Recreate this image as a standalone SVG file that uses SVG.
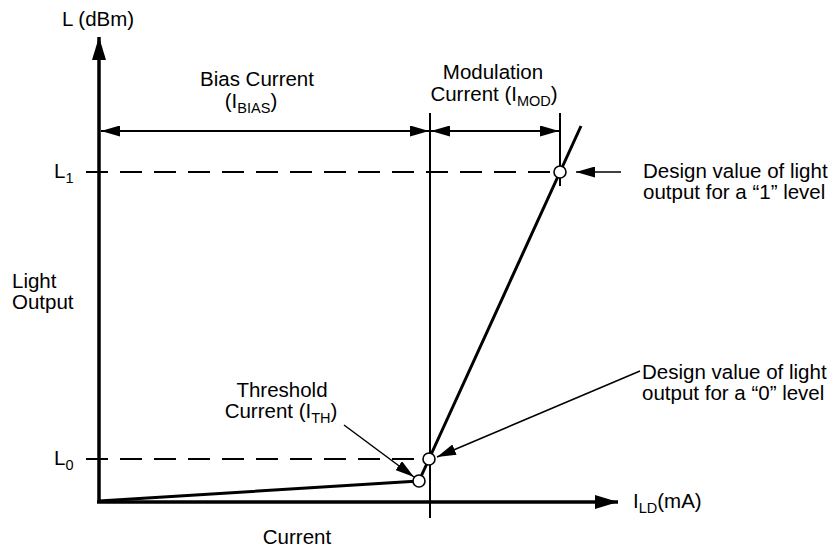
<svg xmlns="http://www.w3.org/2000/svg" width="836" height="550" viewBox="0 0 836 550">
  <style>
    text { font-family: "Liberation Sans", Arial, Helvetica, sans-serif; font-size: 20.5px; fill: #000; }
    .sub { font-size: 14.5px; }
    .axis { stroke: #000; stroke-width: 3.5; fill: none; }
    .thin { stroke: #000; stroke-width: 2; fill: none; }
    .dash { stroke: #000; stroke-width: 2; fill: none; stroke-dasharray: 22 12; }
    .curve { stroke: #000; stroke-width: 3; fill: none; stroke-linejoin: round; }
    .callout { stroke: #000; stroke-width: 1.5; fill: none; }
    .pt { fill: #fff; stroke: #000; stroke-width: 1.6; }
  </style>
  <defs>
    <marker id="axisHead" viewBox="0 0 23 14" refX="23" refY="7" markerWidth="23" markerHeight="14" markerUnits="userSpaceOnUse" orient="auto">
      <path d="M0,0 L23,7 L0,14 z" fill="#000"/>
    </marker>
    <marker id="dimHead" viewBox="0 0 19 11" refX="19" refY="5.5" markerWidth="19" markerHeight="11" markerUnits="userSpaceOnUse" orient="auto-start-reverse">
      <path d="M0,0 L19,5.5 L0,11 z" fill="#000"/>
    </marker>
    <marker id="callHead" viewBox="0 0 19 11" refX="19" refY="5.5" markerWidth="19" markerHeight="11" markerUnits="userSpaceOnUse" orient="auto">
      <path d="M0,0 L19,5.5 L0,11 z" fill="#000"/>
    </marker>
  </defs>

  <!-- axes -->
  <g id="axes">
    <line class="axis" x1="99" y1="503" x2="99" y2="37" marker-end="url(#axisHead)"/>
    <line class="axis" x1="97" y1="502" x2="618" y2="502" marker-end="url(#axisHead)"/>
    <text x="62" y="26">L (dBm)</text>
    <text x="633" y="508">I<tspan class="sub" dy="5">LD</tspan><tspan dy="-5">(mA)</tspan></text>
    <text x="297" y="544" text-anchor="middle">Current</text>
    <text x="12" y="288">Light</text>
    <text x="12" y="309">Output</text>
  </g>

  <!-- reference levels -->
  <g id="levels">
    <line class="dash" x1="86" y1="172" x2="554" y2="172"/>
    <line class="dash" x1="86" y1="459" x2="423" y2="459"/>
    <text x="54" y="178">L<tspan class="sub" dy="5">1</tspan></text>
    <text x="54" y="465">L<tspan class="sub" dy="5">0</tspan></text>
  </g>

  <!-- current range markers -->
  <g id="ranges">
    <line class="thin" x1="430" y1="113" x2="430" y2="518"/>
    <line class="thin" x1="560" y1="113" x2="560" y2="186"/>
    <line class="thin" x1="101" y1="131" x2="429" y2="131" marker-start="url(#dimHead)" marker-end="url(#dimHead)"/>
    <line class="thin" x1="431" y1="131" x2="559" y2="131" marker-start="url(#dimHead)" marker-end="url(#dimHead)"/>
    <text x="257" y="86" text-anchor="middle">Bias Current</text>
    <text x="251" y="108" text-anchor="middle">(I<tspan class="sub" dy="5">BIAS</tspan><tspan dy="-5">)</tspan></text>
    <text x="493" y="79" text-anchor="middle">Modulation</text>
    <text x="494" y="101" text-anchor="middle">Current (I<tspan class="sub" dy="5">MOD</tspan><tspan dy="-5">)</tspan></text>
  </g>

  <!-- L-I characteristic -->
  <g id="characteristic">
    <polyline class="curve" points="99,501 419,481 429,459 581,126"/>
    <circle class="pt" cx="419" cy="481" r="6"/>
    <circle class="pt" cx="429" cy="459" r="6"/>
    <circle class="pt" cx="560" cy="172" r="6"/>
  </g>

  <!-- callouts -->
  <g id="callouts">
    <line class="callout" x1="621" y1="172" x2="576" y2="172" marker-end="url(#callHead)"/>
    <line class="callout" x1="640" y1="371" x2="437" y2="457" marker-end="url(#callHead)"/>
    <line class="callout" x1="344" y1="425" x2="414" y2="477" marker-end="url(#callHead)"/>
    <text x="643" y="178">Design value of light</text>
    <text x="643" y="199">output for a “1” level</text>
    <text x="642" y="379">Design value of light</text>
    <text x="642" y="400">output for a “0” level</text>
    <text x="282" y="397" text-anchor="middle">Threshold</text>
    <text x="281" y="418" text-anchor="middle">Current (I<tspan class="sub" dy="5">TH</tspan><tspan dy="-5">)</tspan></text>
  </g>
</svg>
